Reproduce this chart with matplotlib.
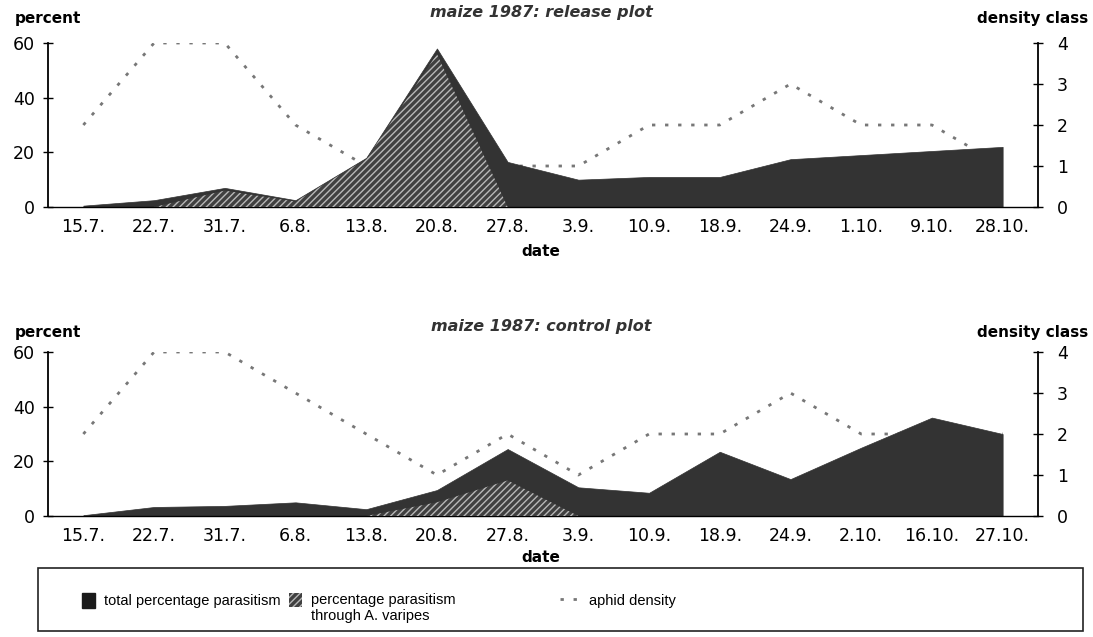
import numpy as np
import matplotlib
matplotlib.use("Agg")
import matplotlib.pyplot as plt
from matplotlib.patches import Patch, Rectangle
from matplotlib.lines import Line2D
from matplotlib.legend_handler import HandlerPatch
from matplotlib import font_manager

# ---------------- data ----------------
dates_release = ["15.7.", "22.7.", "31.7.", "6.8.", "13.8.", "20.8.", "27.8.",
                 "3.9.", "10.9.", "18.9.", "24.9.", "1.10.", "9.10.", "28.10."]
total_release = [0.5, 2.5, 7, 2.5, 18, 58, 16.5, 10, 11, 11, 17.5, 19, 20.5, 22]
varipes_release = [0, 0, 6, 2, 17.5, 56, 0, 0, 0, 0, 0, 0, 0, 0]
density_release = [2, 4, 4, 2, 1, 1, 1, 1, 2, 2, 3, 2, 2, 1]

dates_control = ["15.7.", "22.7.", "31.7.", "6.8.", "13.8.", "20.8.", "27.8.",
                 "3.9.", "10.9.", "18.9.", "24.9.", "2.10.", "16.10.", "27.10."]
total_control = [0.3, 3.3, 3.7, 5, 2.5, 9.5, 24.5, 10.5, 8.5, 23.5, 13.5, 25, 36, 30]
varipes_control = [0, 0, 0, 0, 0, 5, 13, 0, 0, 0, 0, 0, 0, 0]
density_control = [2, 4, 4, 3, 2, 1, 2, 1, 2, 2, 3, 2, 2, 2]

percent_ticks = [0, 20, 40, 60]
density_ticks = [0, 1, 2, 3, 4]

legend_labels = ["total percentage parasitism",
                 "percentage parasitism\nthrough A. varipes",
                 "aphid density"]

# ---------------- style ----------------
W, H = 1093, 637
DARK = "#333333"
HATCH_FACE = "#404040"
HATCH_LINE = "#b8b8b8"
LINE_C = "#777777"
plt.rcParams["hatch.linewidth"] = 1.0
plt.rcParams["hatch.color"] = HATCH_LINE
plt.rcParams["font.family"] = ["DejaVu Sans"]

leg_prop = font_manager.FontProperties(family="Liberation Sans", size=10.5)

dens_style = dict(color=LINE_C, lw=2.0, linestyle=(0, (1.2, 3.5)))

fig = plt.figure(figsize=(W / 100, H / 100), dpi=100)


def fx(px):
    return px / W


def fy(py):
    return 1 - py / H


def draw_panel(base_px, dates, total, varipes, density, title, y_title, y_head, y_date):
    ax = fig.add_axes([fx(48), fy(base_px), 990 / W, 164 / H])
    ax2 = ax.twinx()
    x = np.arange(len(dates))

    ax.fill_between(x, 0, total, facecolor=DARK, edgecolor=DARK, lw=0.5, zorder=2)
    ax.fill_between(x, 0, varipes, facecolor=HATCH_FACE, edgecolor=HATCH_LINE,
                    hatch="/////", lw=0, zorder=3)
    ax2.plot(x, density, **dens_style)

    ax.set_zorder(ax2.get_zorder() + 1)
    ax.patch.set_visible(False)

    ax.set_xlim(-0.5, len(dates) - 0.5)
    ax.set_ylim(0, 60)
    ax2.set_ylim(0, 4)

    ax.set_xticks(x)
    ax.set_xticklabels(dates)
    ax.set_xticks(x[:-1] + 0.5, minor=True)
    ax.tick_params(axis="x", which="major", length=0, pad=8, labelsize=12.5)
    ax.tick_params(axis="x", which="minor", direction="in", length=3, color="#888888")

    ax.set_yticks(percent_ticks)
    ax.tick_params(axis="y", direction="inout", length=7, width=1, labelsize=12.5, pad=6)
    ax2.set_yticks(density_ticks)
    ax2.tick_params(axis="y", direction="inout", length=7, width=1, labelsize=12.5, pad=10)

    for s in ("top", "right"):
        ax.spines[s].set_visible(False)
    for s in ("top", "left", "bottom"):
        ax2.spines[s].set_visible(False)
    ax.spines["left"].set_linewidth(1.3)
    ax.spines["bottom"].set_linewidth(1.0)
    ax2.spines["right"].set_linewidth(1.3)

    fig.text(fx(541), fy(y_title), title, ha="center", va="center",
             fontsize=11.5, fontweight="bold", fontstyle="italic", color="#333333")
    fig.text(fx(15), fy(y_head), "percent", ha="left", va="center",
             fontsize=11, fontweight="bold")
    fig.text(fx(1088), fy(y_head), "density class", ha="right", va="center",
             fontsize=11, fontweight="bold")
    fig.text(fx(541), fy(y_date), "date", ha="center", va="center",
             fontsize=11, fontweight="bold")
    return ax, ax2


draw_panel(207, dates_release, total_release, varipes_release, density_release,
           "maize 1987: release plot", 13, 18, 252)
draw_panel(516, dates_control, total_control, varipes_control, density_control,
           "maize 1987: control plot", 326, 333, 558)

# ---------------- legend ----------------
h_total = Patch(facecolor="#1a1a1a", edgecolor="#1a1a1a")
h_var = Patch(facecolor=HATCH_FACE, edgecolor=HATCH_LINE, hatch="/////", lw=0)
h_dens = Line2D([], [], **dens_style)


def raised_patch(legend, orig_handle, xdescent, ydescent, width, height, fontsize):
    return Rectangle((-xdescent, -ydescent + 0.6 * fontsize), width, height)


common = dict(loc="upper left", frameon=False, prop=leg_prop, borderpad=0,
              handletextpad=0.6, handleheight=1.15)
fig.legend([h_total], [legend_labels[0]], bbox_to_anchor=(fx(75), fy(586)),
           handlelength=0.9, **common)
fig.legend([h_var], [legend_labels[1]], bbox_to_anchor=(fx(282), fy(586)),
           handlelength=0.9, handler_map={Patch: HandlerPatch(patch_func=raised_patch)},
           **common)
fig.legend([h_dens], [legend_labels[2]], bbox_to_anchor=(fx(553), fy(586)),
           handlelength=1.4, **common)

fig.patches.append(Rectangle((fx(38), fy(631)), (1083 - 38) / W, (631 - 568) / H,
                             transform=fig.transFigure, fill=False,
                             edgecolor="#222222", lw=1.2))

fig.savefig("out.png", dpi=100)
